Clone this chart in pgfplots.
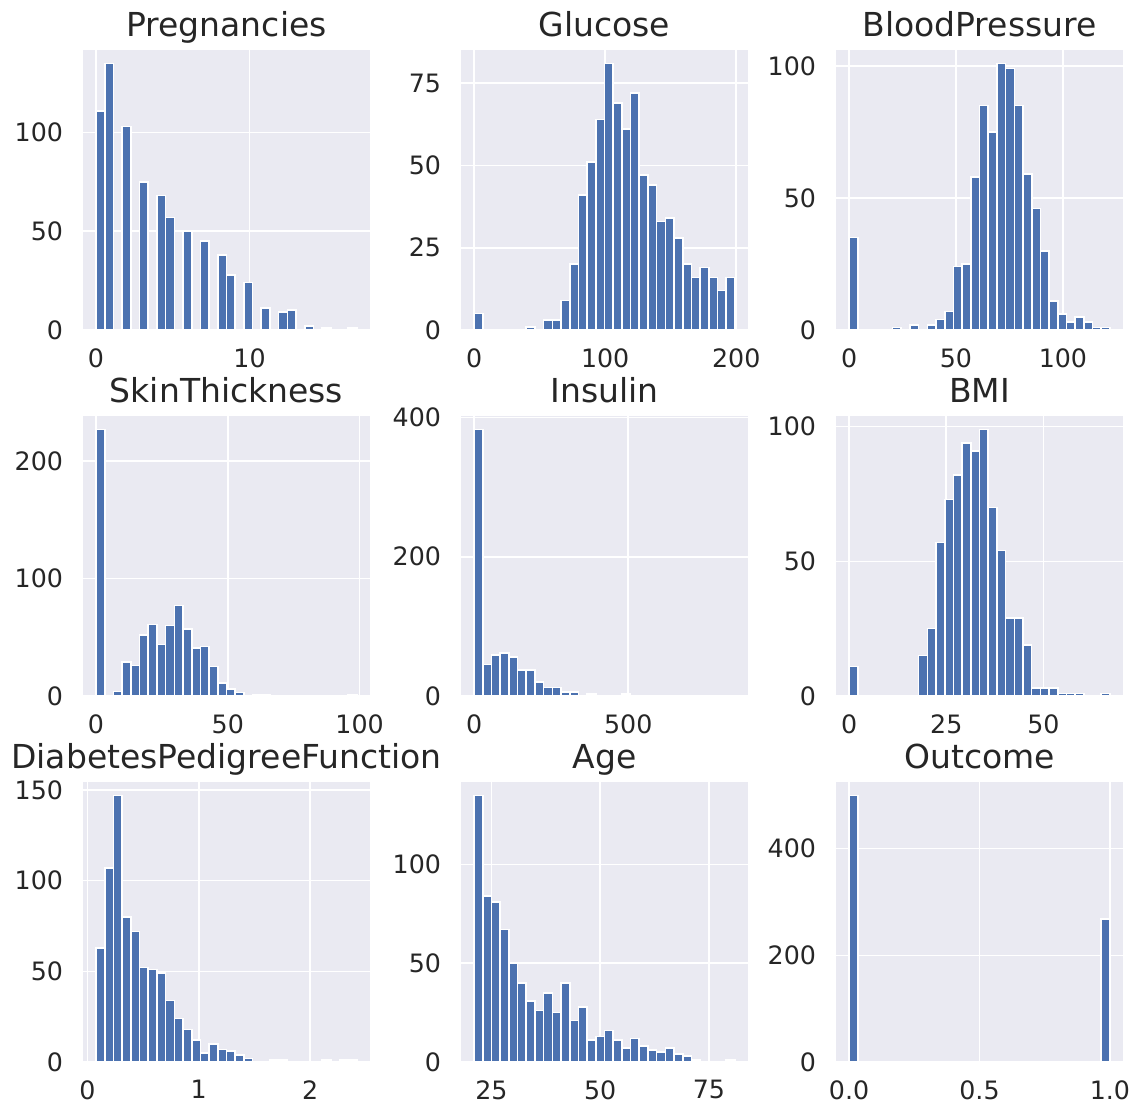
\documentclass[border=0pt]{standalone}
\usepackage{fontspec}
\setmainfont{DejaVu Sans}
\usepackage{pgfplots}
\pgfplotsset{compat=1.18}

\definecolor{bgc}{HTML}{EAEAF2}
\definecolor{barc}{HTML}{4C72B0}
\definecolor{txt}{HTML}{262626}

\pgfplotsset{
  hist/.style={
    width=143.5pt, height=140pt, scale only axis,
    anchor=north west,
    axis background/.style={fill=bgc},
    axis line style={draw=none},
    major tick length=0pt,
    xmajorgrids, ymajorgrids,
    major grid style={white, line width=0.8pt},
    ymin=0,
    every axis title/.style={font=\fontsize{16.5pt}{18pt}\selectfont, text=txt,
      at={(0.5,1)}, anchor=base, yshift=6.7pt},
    tick label style={font=\fontsize{12.65pt}{14pt}\selectfont, text=txt},
    xticklabel style={anchor=north, inner sep=0pt, yshift=-9pt},
    yticklabel style={anchor=east, inner sep=0pt, xshift=-9.8pt},
  },
  bars/.style={ybar interval, fill=barc, draw=white, line width=0.8pt},
}

\begin{document}
\begin{tikzpicture}
\path (0,0) rectangle (569pt,-555pt);

% row 1
\begin{axis}[hist, at={(41.5pt,-25pt)}, title={Pregnancies},
  xmin=-0.85, xmax=17.85, ymax=141.75,
  xtick={0,10}, xticklabels={0,10},
  ytick={0,50,100}, yticklabels={0,50,100}]
\addplot[bars] coordinates {
(0,111) (0.5667,135) (1.1333,0) (1.7,103) (2.2667,0) (2.8333,75) (3.4,0)
(3.9667,68) (4.5333,57) (5.1,0) (5.6667,50) (6.2333,0) (6.8,45) (7.3667,0)
(7.9333,38) (8.5,28) (9.0667,0) (9.6333,24) (10.2,0) (10.7667,11) (11.3333,0)
(11.9,9) (12.4667,10) (13.0333,0) (13.6,2) (14.1667,0) (14.7333,1) (15.3,0)
(15.8667,0) (16.4333,1) (17,1)};
\end{axis}

\begin{axis}[hist, at={(230.5pt,-25pt)}, title={Glucose},
  xmin=-9.95, xmax=208.95, ymax=85.05,
  xtick={0,100,200}, xticklabels={0,100,200},
  ytick={0,25,50,75}, yticklabels={0,25,50,75}]
\addplot[bars] coordinates {
(0,5) (6.633,0) (13.267,0) (19.9,0) (26.533,0) (33.167,0) (39.8,1) (46.433,0)
(53.067,3) (59.7,3) (66.333,9) (72.967,20) (79.6,41) (86.233,51) (92.867,64)
(99.5,81) (106.133,69) (112.767,61) (119.4,72) (126.033,47) (132.667,44)
(139.3,33) (145.933,34) (152.567,28) (159.2,20) (165.833,16) (172.467,19)
(179.1,16) (185.733,12) (192.367,16) (199,16)};
\end{axis}

\begin{axis}[hist, at={(418pt,-25pt)}, title={BloodPressure},
  xmin=-6.1, xmax=128.1, ymax=106.05,
  xtick={0,50,100}, xticklabels={0,50,100},
  ytick={0,50,100}, yticklabels={0,50,100}]
\addplot[bars] coordinates {
(0,35) (4.067,0) (8.133,0) (12.2,0) (16.267,0) (20.333,1) (24.4,0) (28.467,2)
(32.533,0) (36.6,2) (40.667,4) (44.733,7) (48.8,24) (52.867,25) (56.933,58)
(61,85) (65.067,75) (69.133,101) (73.2,99) (77.267,85) (81.333,59) (85.4,46)
(89.467,30) (93.533,11) (97.6,6) (101.667,3) (105.733,5) (109.8,3)
(113.867,1) (117.933,1) (122,1)};
\end{axis}

% row 2
\begin{axis}[hist, at={(41.5pt,-208pt)}, title={SkinThickness},
  xmin=-4.95, xmax=103.95, ymax=238.35,
  xtick={0,50,100}, xticklabels={0,50,100},
  ytick={0,100,200}, yticklabels={0,100,200}]
\addplot[bars] coordinates {
(0,227) (3.3,0) (6.6,4) (9.9,29) (13.2,26) (16.5,52) (19.8,61) (23.1,44)
(26.4,60) (29.7,77) (33,57) (36.3,41) (39.6,42) (42.9,25) (46.2,11) (49.5,6)
(52.8,3) (56.1,0) (59.4,1) (62.7,1) (66,0) (69.3,0) (72.6,0) (75.9,0) (79.2,0)
(82.5,0) (85.8,0) (89.1,0) (92.4,0) (95.7,1) (99,1)};
\end{axis}

\begin{axis}[hist, at={(230.5pt,-208pt)}, title={Insulin},
  xmin=-42.3, xmax=888.3, ymax=402.15,
  xtick={0,500}, xticklabels={0,500},
  ytick={0,200,400}, yticklabels={0,200,400}]
\addplot[bars] coordinates {
(0,383) (28.2,45) (56.4,59) (84.6,62) (112.8,56) (141,37) (169.2,37)
(197.4,20) (225.6,12) (253.8,12) (282,6) (310.2,6) (338.4,0) (366.6,3)
(394.8,1) (423,1) (451.2,1) (479.4,3) (507.6,1) (535.8,1) (564,1) (592.2,1)
(620.4,0) (648.6,0) (676.8,1) (705,0) (733.2,1) (761.4,0) (789.6,0)
(817.8,1) (846,1)};
\end{axis}

\begin{axis}[hist, at={(418pt,-208pt)}, title={BMI},
  xmin=-3.355, xmax=70.455, ymax=103.95,
  xtick={0,25,50}, xticklabels={0,25,50},
  ytick={0,50,100}, yticklabels={0,50,100}]
\addplot[bars] coordinates {
(0,11) (2.237,0) (4.473,0) (6.71,0) (8.947,0) (11.183,0) (13.42,0) (15.657,0)
(17.893,15) (20.13,25) (22.367,57) (24.603,73) (26.84,82) (29.077,94)
(31.313,91) (33.55,99) (35.787,70) (38.023,54) (40.26,29) (42.497,29)
(44.733,19) (46.97,3) (49.207,3) (51.443,3) (53.68,1) (55.917,1) (58.153,1)
(60.39,0) (62.627,0) (64.863,1) (67.1,1)};
\end{axis}

% row 3
\begin{axis}[hist, at={(41.5pt,-391pt)}, title={DiabetesPedigreeFunction},
  xmin=-0.0391, xmax=2.5371, ymax=154.35,
  xtick={0,1,2}, xticklabels={0,1,2},
  ytick={0,50,100,150}, yticklabels={0,50,100,150}]
\addplot[bars] coordinates {
(0.078,63) (0.1561,107) (0.2341,147) (0.3122,80) (0.3903,72) (0.4683,52)
(0.5464,51) (0.6245,49) (0.7025,34) (0.7806,24) (0.8587,18) (0.9367,12)
(1.0148,5) (1.0929,10) (1.1709,7) (1.249,6) (1.3271,4) (1.4051,2)
(1.4832,0) (1.5613,0) (1.6393,1) (1.7174,1) (1.7955,0) (1.8735,0)
(1.9516,0) (2.0297,0) (2.1077,1) (2.1858,0) (2.2639,1) (2.3419,1) (2.42,1)};
\end{axis}

\begin{axis}[hist, at={(230.5pt,-391pt)}, title={Age},
  xmin=18, xmax=84, ymax=141.75,
  xtick={25,50,75}, xticklabels={25,50,75},
  ytick={0,50,100}, yticklabels={0,50,100}]
\addplot[bars] coordinates {
(21,135) (23,84) (25,81) (27,67) (29,50) (31,40) (33,31) (35,26) (37,35)
(39,25) (41,40) (43,21) (45,28) (47,11) (49,13) (51,16) (53,11) (55,7)
(57,12) (59,8) (61,6) (63,5) (65,7) (67,4) (69,3) (71,1) (73,0) (75,0)
(77,0) (79,1) (81,1)};
\end{axis}

\begin{axis}[hist, at={(418pt,-391pt)}, title={Outcome},
  xmin=-0.05, xmax=1.05, ymax=525,
  xtick={0,0.5,1}, xticklabels={0.0,0.5,1.0},
  ytick={0,200,400}, yticklabels={0,200,400}]
\addplot[bars] coordinates {
(0,500) (0.0333,0) (0.0667,0) (0.1,0) (0.1333,0) (0.1667,0) (0.2,0)
(0.2333,0) (0.2667,0) (0.3,0) (0.3333,0) (0.3667,0) (0.4,0) (0.4333,0)
(0.4667,0) (0.5,0) (0.5333,0) (0.5667,0) (0.6,0) (0.6333,0) (0.6667,0)
(0.7,0) (0.7333,0) (0.7667,0) (0.8,0) (0.8333,0) (0.8667,0) (0.9,0)
(0.9333,0) (0.9667,268) (1,268)};
\end{axis}
\end{tikzpicture}
\end{document}
